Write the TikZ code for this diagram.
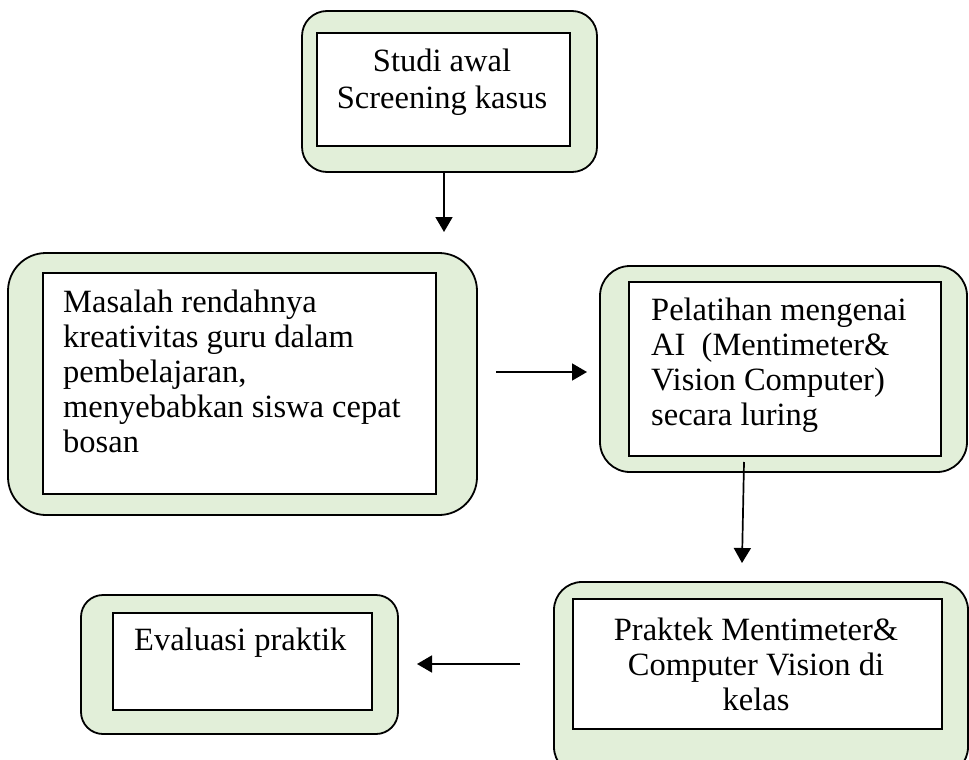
\documentclass[tikz,border=0pt]{standalone}
\usepackage{fontspec}
\setmainfont{Liberation Serif}
\usetikzlibrary{arrows.meta}
\definecolor{boxgreen}{HTML}{E2EFD9}
\tikzset{
  outerbox/.style={draw, line width=1.8pt, fill=boxgreen, rectangle, inner sep=0pt},
  innerbox/.style={draw, line width=1.5pt, fill=white, rectangle, inner sep=0pt},
  txt/.style={inner sep=0pt, font=\fontsize{32.5}{36}\selectfont},
  arr/.style={line width=1.7pt, -{Triangle[length=15pt,width=17pt]}}
}
\begin{document}
\begin{tikzpicture}[x=1pt,y=-1pt]
\useasboundingbox (0,0) rectangle (969,760);
\clip (0,0) rectangle (969,760);
% Box 1
\node[outerbox, rounded corners=25pt, minimum width=295pt, minimum height=161pt] (o1) at (449.5,91.5) {};
\node[innerbox, minimum width=253pt, minimum height=113pt] (i1) at (443.5,89.5) {};
\node[txt, anchor=base] (t1a) at (442,72) {Studi awal};
\node[txt, anchor=base] (t1b) at (442,108) {Screening kasus};
% Box 2
\node[outerbox, rounded corners=38pt, minimum width=469pt, minimum height=262pt] (o2) at (242.5,384) {};
\node[innerbox, minimum width=393pt, minimum height=221pt] (i2) at (239.5,383.5) {};
\node[txt, anchor=base west] (t2a) at (63,312) {Masalah rendahnya};
\node[txt, anchor=base west] (t2b) at (63,347) {kreativitas guru dalam};
\node[txt, anchor=base west] (t2c) at (63,382) {pembelajaran,};
\node[txt, anchor=base west] (t2d) at (63,417) {menyebabkan siswa cepat};
\node[txt, anchor=base west] (t2e) at (63,452) {bosan};
% Box 3
\node[outerbox, rounded corners=30pt, minimum width=367pt, minimum height=206pt] (o3) at (783.5,369) {};
\node[innerbox, minimum width=312pt, minimum height=174pt] (i3) at (785,369) {};
\node[txt, anchor=base west] (t3a) at (651,320) {Pelatihan mengenai};
\node[txt, anchor=base west] (t3b) at (651,355) {AI\ \ (Mentimeter\&};
\node[txt, anchor=base west] (t3c) at (651,390) {Vision Computer)};
\node[txt, anchor=base west] (t3d) at (651,425) {secara luring};
% Box 4
\node[outerbox, rounded corners=28pt, minimum width=414pt, minimum height=193pt] (o4) at (761,678.5) {};
\node[innerbox, minimum width=369pt, minimum height=130pt] (i4) at (757.5,664) {};
\node[txt, anchor=base] (t4a) at (756,640) {Praktek Mentimeter\&};
\node[txt, anchor=base] (t4b) at (756,675) {Computer Vision di};
\node[txt, anchor=base] (t4c) at (756,710) {kelas};
% Box 5
\node[outerbox, rounded corners=22pt, minimum width=317pt, minimum height=139pt] (o5) at (239.5,664.5) {};
\node[innerbox, minimum width=259pt, minimum height=97pt] (i5) at (242.5,661.5) {};
\node[txt, anchor=base west] (t5a) at (134,650) {Evaluasi praktik};
% Arrows
\coordinate (a1s) at (444,172);
\coordinate (a1e) at (444,232);
\coordinate (a2s) at (496,372);
\coordinate (a2e) at (587,372);
\coordinate (a3s) at (744,462);
\coordinate (a3e) at (742,563);
\coordinate (a4s) at (520,664);
\coordinate (a4e) at (417,664);
\draw[arr] (a1s) -- (a1e);
\draw[arr] (a2s) -- (a2e);
\draw[arr] (a3s) -- (a3e);
\draw[arr] (a4s) -- (a4e);
\end{tikzpicture}
\end{document}
